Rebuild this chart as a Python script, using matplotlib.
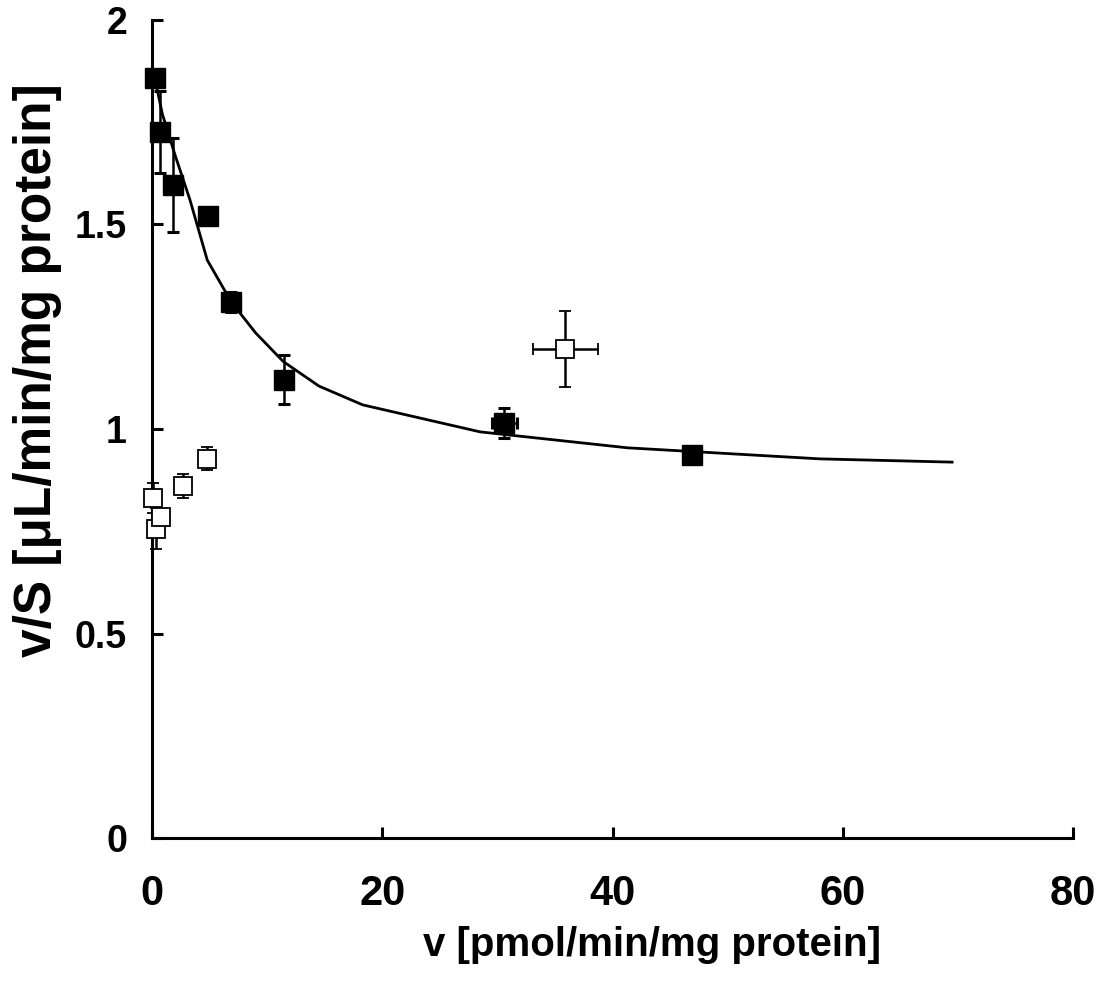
import matplotlib
matplotlib.use("Agg")
import matplotlib.pyplot as plt

# Filled squares (with fitted curve)
filled_v = [0.26, 0.7, 1.8, 4.9, 6.9, 11.5, 30.6, 46.9]
filled_vs = [1.858, 1.726, 1.597, 1.521, 1.311, 1.120, 1.015, 0.936]
filled_yerr = [0.02, 0.10, 0.115, 0.01, 0.025, 0.06, 0.037, 0.01]
filled_xerr = [0, 0, 0, 0, 0, 0, 1.1, 0]

# Open squares
open_v = [0.09, 0.35, 0.78, 2.7, 4.8, 35.9]
open_vs = [0.831, 0.756, 0.785, 0.861, 0.927, 1.196]
open_yerr = [0.037, 0.05, 0.02, 0.03, 0.028, 0.093]
open_xerr = [0, 0, 0, 0, 0, 2.8]

# Fitted curve
curve_v = [0.3, 0.9, 2.0, 3.3, 4.8, 6.9, 9.0, 11.4, 14.5, 18.3, 28.5, 41.3, 58.0, 69.5]
curve_vs = [1.85, 1.77, 1.67, 1.56, 1.413, 1.31, 1.235, 1.165, 1.105, 1.059, 0.993, 0.954, 0.927, 0.919]

x_ticks = [0, 20, 40, 60, 80]
y_ticks = [0, 0.5, 1, 1.5, 2]
y_tick_labels = ["0", "0.5", "1", "1.5", "2"]

plt.rcParams['font.family'] = ['Liberation Sans', 'DejaVu Sans']
plt.rcParams['font.weight'] = 'bold'

fig = plt.figure(figsize=(11.07, 9.97), dpi=100)
ax = fig.add_axes([152/1107, 1 - 838/997, (1073-152)/1107, (838-20)/997])

ax.plot(curve_v, curve_vs, color='black', lw=2.0, zorder=2)

eb1 = ax.errorbar(filled_v, filled_vs, yerr=filled_yerr, xerr=filled_xerr, fmt='s',
                  ms=14.5, mfc='black', mec='black', ecolor='black', elinewidth=1.8,
                  capsize=4.5, capthick=2.2, zorder=3)
eb2 = ax.errorbar(open_v, open_vs, yerr=open_yerr, xerr=open_xerr, fmt='s',
                  ms=13.5, mfc='white', mec='black', mew=1.3, ecolor='black', elinewidth=1.8,
                  capsize=4.5, capthick=2.2, zorder=4)
for eb in (eb1, eb2):
    for artist in eb.get_children():
        artist.set_clip_on(False)

ax.set_xlim(0, 80)
ax.set_ylim(0, 2)
ax.set_xticks(x_ticks)
ax.set_yticks(y_ticks)
ax.set_yticklabels(y_tick_labels)
for s in ['top', 'right']:
    ax.spines[s].set_visible(False)
for s in ['left', 'bottom']:
    ax.spines[s].set_linewidth(2.2)
ax.tick_params(direction='in', length=8, width=2.2)
ax.tick_params(axis='x', labelsize=30, pad=26)
ax.tick_params(axis='y', labelsize=27, pad=18)
for lab in ax.get_xticklabels() + ax.get_yticklabels():
    lab.set_fontweight('bold')

ax.set_xlabel('v [pmol/min/mg protein]', fontsize=29, fontweight='bold')
ax.set_ylabel('v/S [μL/min/mg protein]', fontsize=37, fontweight='bold')
ax.xaxis.set_label_coords((652-152)/921, (838-945)/818)
ax.yaxis.set_label_coords((38-152)/921, (838-370)/818)
ax.xaxis.label.set_va('center')
ax.yaxis.label.set_va('center')

fig.savefig('out.png', dpi=100)
